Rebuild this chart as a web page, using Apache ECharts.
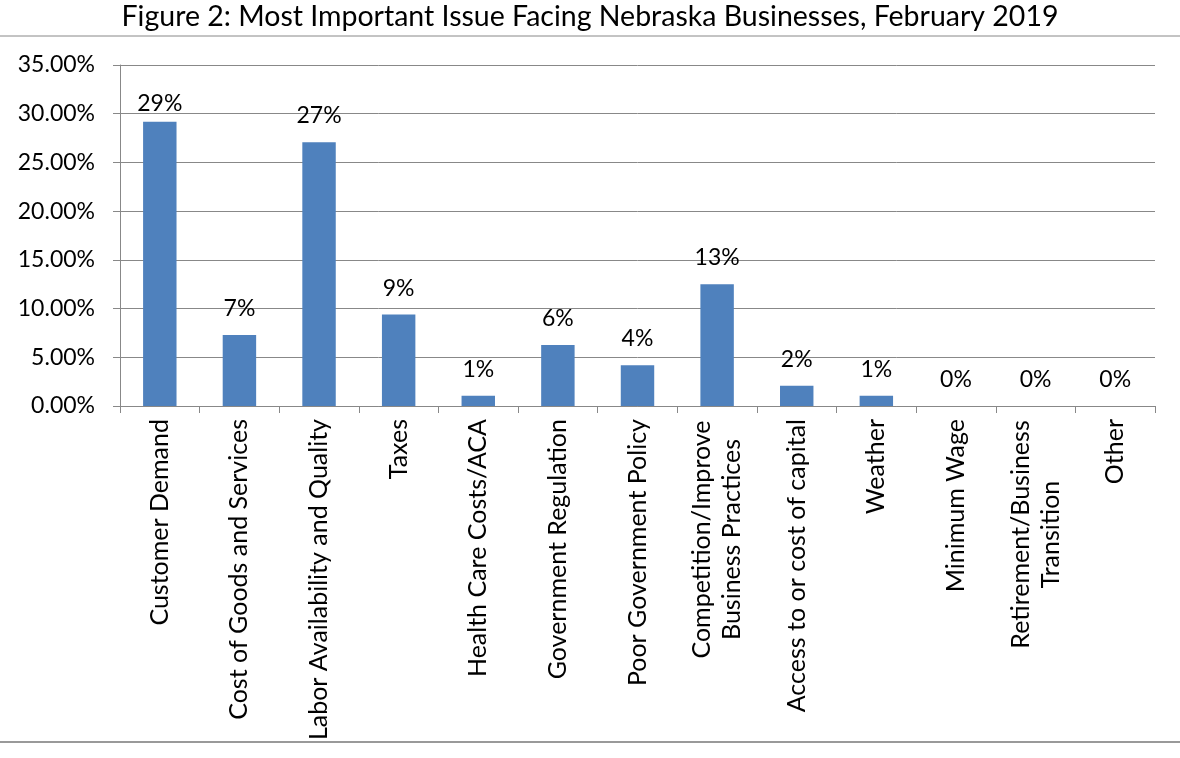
<!DOCTYPE html>
<html>
<head>
<meta charset="utf-8">
<script src="https://cdn.jsdelivr.net/npm/echarts@6/dist/echarts.min.js"></script>
<style>
html,body{margin:0;padding:0;background:#fff;}
#chart{width:1180px;height:758px;}
</style>
</head>
<body>
<div id="chart"></div>
<script>
const titleText = "Figure 2: Most Important Issue Facing Nebraska Businesses, February 2019";
const categories = [
  "Customer Demand",
  "Cost of Goods and Services",
  "Labor Availability and Quality",
  "Taxes",
  "Health Care Costs/ACA",
  "Government Regulation",
  "Poor Government Policy",
  "Competition/Improve\nBusiness Practices",
  "Access to or cost of capital",
  "Weather",
  "Minimum Wage",
  "Retirement/Business\nTransition",
  "Other"
];
const shares = [29.17, 7.29, 27.08, 9.38, 1.04, 6.25, 4.17, 12.5, 2.08, 1.04, 0, 0, 0];
const yTicks = { min: 0, max: 35, interval: 5 };

const FONT = "Lato, 'Liberation Sans', sans-serif";
const XSIZE = 25;

// measure multi-line labels so each line can be centred in its block
const ctx = document.createElement('canvas').getContext('2d');
ctx.font = XSIZE + 'px Lato';
const rich = {};
const catIndexKey = {};
categories.forEach((c, i) => {
  if (c.indexOf('\n') >= 0) {
    const w = Math.max(...c.split('\n').map(s => ctx.measureText(s).width));
    rich['m' + i] = { width: Math.ceil(w) + 2, align: 'center', fontFamily: FONT, fontSize: XSIZE, lineHeight: 30, color: '#000' };
    catIndexKey[c] = 'm' + i;
  }
});

// the tallest bar's label sits closer to the bar (as in the original, near the plot top)
const maxVal = Math.max(...shares);
const barData = shares.map(v => v === maxVal ? { value: v, label: { distance: 7 } } : v);

const chart = echarts.init(document.getElementById('chart'));
chart.setOption({
  animation: false,
  backgroundColor: '#fff',
  title: {
    text: titleText,
    left: 'center',
    top: -3,
    textStyle: { fontFamily: FONT, fontSize: 28.5, fontWeight: 'normal', color: '#000' }
  },
  graphic: [
    { type: 'line', shape: { x1: 0, y1: 36, x2: 1180, y2: 36 }, style: { stroke: '#888', lineWidth: 1 } },
    { type: 'line', shape: { x1: 0, y1: 742, x2: 1180, y2: 742 }, style: { stroke: '#999', lineWidth: 2 } }
  ],
  grid: { left: 120, right: 25, top: 65, bottom: 352, containLabel: false, outerBoundsMode: 'none' },
  xAxis: {
    type: 'category',
    data: categories,
    axisLine: { show: true, lineStyle: { color: '#888', width: 1 } },
    axisTick: { show: true, length: 7, alignWithLabel: false, lineStyle: { color: '#888' } },
    axisLabel: {
      interval: 0, rotate: 90, margin: 13,
      fontFamily: FONT, fontSize: XSIZE, color: '#000', lineHeight: 30,
      rich: rich,
      formatter: v => catIndexKey[v] ? v.split('\n').map(s => '{' + catIndexKey[v] + '|' + s + '}').join('\n') : v
    }
  },
  yAxis: {
    type: 'value',
    min: yTicks.min, max: yTicks.max, interval: yTicks.interval,
    axisLine: { show: true, lineStyle: { color: '#888', width: 1 } },
    axisTick: { show: true, length: 7, lineStyle: { color: '#888' } },
    splitLine: { show: true, lineStyle: { color: '#888', width: 1 } },
    axisLabel: {
      fontFamily: FONT, fontSize: 23, color: '#000', margin: 25,
      formatter: v => v.toFixed(2) + '%'
    }
  },
  series: [{
    type: 'bar',
    data: barData,
    barWidth: '42%',
    itemStyle: { color: '#4f81bd' },
    label: {
      show: true, position: 'top', distance: 15,
      fontFamily: FONT, fontSize: 23, color: '#000',
      formatter: p => Math.round(p.value) + '%'
    }
  }]
});
</script>
</body>
</html>
